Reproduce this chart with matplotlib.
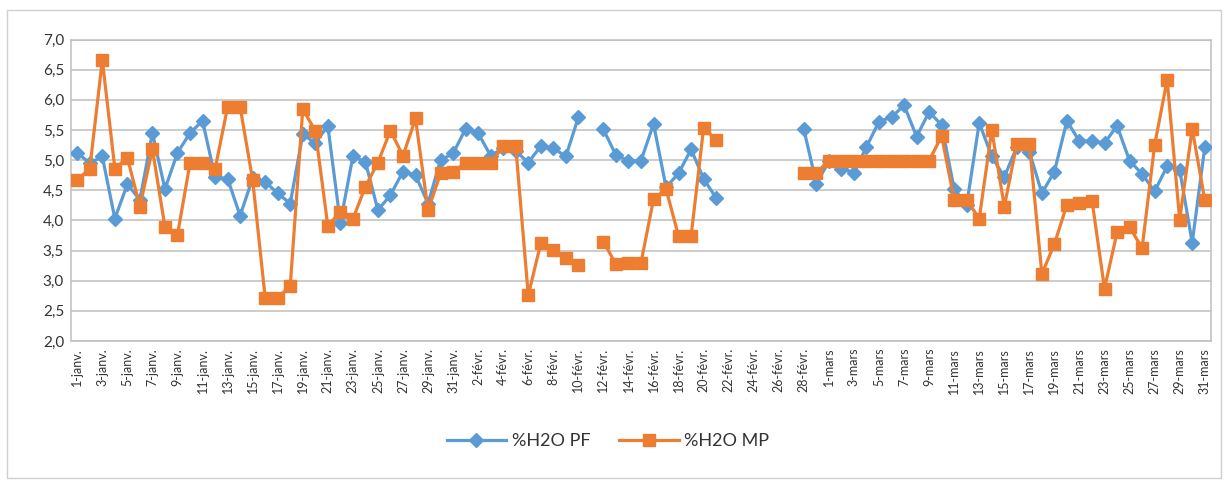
import numpy as np
import pandas as pd
import matplotlib
matplotlib.use('Agg')
import matplotlib.pyplot as plt
from matplotlib.patches import Rectangle

plt.rcParams['font.family'] = ['Lato', 'DejaVu Sans']

nan = np.nan

# 1 janv. -> 31 mars (année bissextile, 91 jours)
dates = pd.date_range('2016-01-01', '2016-03-31', freq='D')
mois = {1: 'janv.', 2: 'févr.', 3: 'mars'}

h2o_pf = [5.12, 4.95, 5.06, 4.03, 4.60, 4.34, 5.45, 4.52, 5.12, 5.45,
          5.65, 4.72, 4.69, 4.08, 4.70, 4.64, 4.45, 4.28, 5.43, 5.28,
          5.57, 3.96, 5.06, 4.97, 4.17, 4.42, 4.81, 4.75, 4.28, 5.00,
          5.11, 5.52, 5.45, 5.07, 5.20, 5.15, 4.96, 5.23, 5.20, 5.06,
          5.71, nan, 5.51, 5.08, 4.99, 4.99, 5.60, 4.55, 4.78, 5.18,
          4.69, 4.37, nan, nan, nan, nan, nan, nan, 5.51, 4.61,
          4.98, 4.86, 4.79, 5.22, 5.64, 5.71, 5.91, 5.39, 5.80, 5.58,
          4.52, 4.26, 5.62, 5.06, 4.72, 5.22, 5.14, 4.45, 4.81, 5.65,
          5.31, 5.32, 5.28, 5.57, 4.99, 4.77, 4.48, 4.90, 4.84, 3.63,
          5.21]

h2o_mp = [4.67, 4.86, 6.66, 4.86, 5.04, 4.23, 5.18, 3.89, 3.76, 4.95,
          4.96, 4.85, 5.88, 5.88, 4.67, 2.72, 2.72, 2.91, 5.84, 5.49,
          3.91, 4.14, 4.02, 4.56, 4.96, 5.49, 5.07, 5.69, 4.17, 4.78,
          4.81, 4.95, 4.95, 4.95, 5.23, 5.23, 2.76, 3.62, 3.51, 3.38,
          3.26, nan, 3.65, 3.27, 3.30, 3.30, 4.35, 4.52, 3.74, 3.74,
          5.54, 5.33, nan, nan, nan, nan, nan, nan, 4.79, 4.79,
          4.99, 4.99, 4.99, 4.99, 4.99, 4.99, 4.99, 4.99, 4.99, 5.40,
          4.34, 4.34, 4.03, 5.50, 4.23, 5.27, 5.27, 3.11, 3.61, 4.26,
          4.29, 4.33, 2.87, 3.80, 3.89, 3.54, 5.25, 6.33, 4.01, 5.52,
          4.34]

labels = [f'{d.day}-{mois[d.month]}' for d in dates]
x = np.arange(len(dates))

fig = plt.figure(figsize=(12.28, 4.80), dpi=100)
ax = fig.add_axes([71 / 1228, 1 - 341 / 480, 1140 / 1228, (341 - 39.5) / 480])

ax.plot(x, h2o_pf, color='#5b9bd5', lw=2.3, marker='D', ms=7, label='%H2O PF', zorder=3)
ax.plot(x, h2o_mp, color='#ed7d31', lw=2.3, marker='s', ms=9, label='%H2O MP', zorder=4)

ax.set_xlim(-0.5, len(x) - 0.5)
ax.set_ylim(2.0, 7.0)
yt = np.arange(2.0, 7.01, 0.5)
ax.set_yticks(yt)
ax.set_yticklabels([f'{v:.1f}'.replace('.', ',') for v in yt], fontsize=11, color='#333333')
ax.set_xticks(x[::2])
ax.set_xticklabels(labels[::2], rotation=90, fontsize=9, color='#333333')
ax.tick_params(length=0, pad=5)
ax.grid(axis='y', color='#bfbfbf', lw=1.1)
ax.set_axisbelow(True)
for s in ax.spines.values():
    s.set_color('#bfbfbf')
    s.set_linewidth(1.1)

fig.legend(loc='center', bbox_to_anchor=(0.495, 1 - 441 / 480), ncol=2, frameon=False,
           fontsize=13, handlelength=3.3, handletextpad=0.3, columnspacing=1.6,
           labelcolor='#333333')

fig.patches.append(Rectangle((7 / 1228, 2 / 480), 1214 / 1228, 468 / 480,
                             transform=fig.transFigure, fill=False,
                             edgecolor='#d0d0d0', lw=1))

fig.savefig('out.png', dpi=100)
